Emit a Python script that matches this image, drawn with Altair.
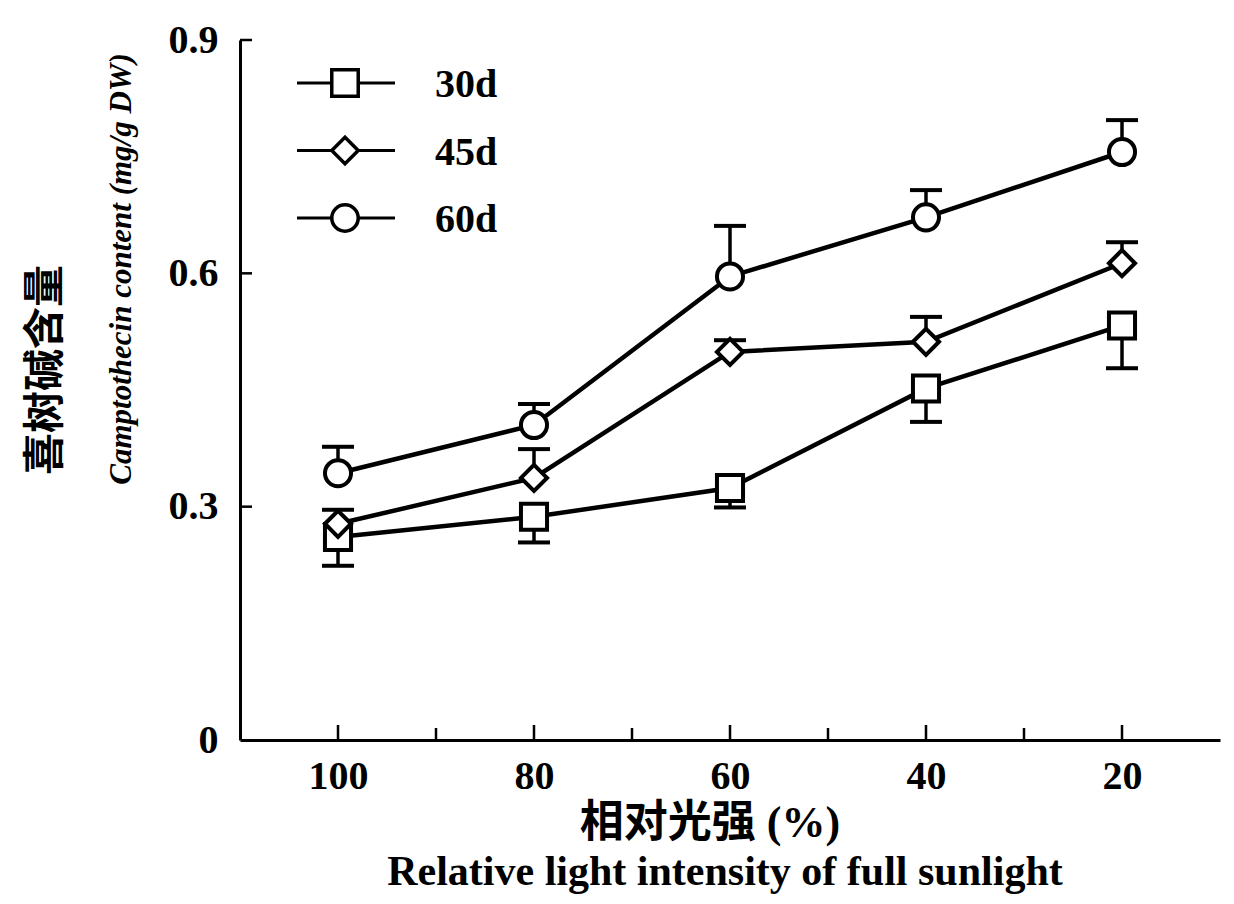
import altair as alt
import pandas as pd

# ---- data ----
light = [100, 80, 60, 40, 20]
series = ["30d", "45d", "60d"]
d30 = [0.261, 0.287, 0.324, 0.452, 0.533]
d30_err = [-0.037, -0.033, -0.025, -0.043, -0.055]
d45 = [0.278, 0.337, 0.499, 0.512, 0.613]
d45_err = [0.018, 0.037, 0.015, 0.032, 0.027]
d60 = [0.343, 0.405, 0.596, 0.672, 0.756]
d60_err = [0.034, 0.027, 0.065, 0.035, 0.041]
shapes = ["square", "diamond", "circle"]

x_labels = [100, 80, 60, 40, 20]
x_minor = [90, 70, 50, 30]
y_ticks = [0, 0.3, 0.6, 0.9]

rows = []
for name, vals, errs in zip(series, [d30, d45, d60], [d30_err, d45_err, d60_err]):
    for lx, v, e in zip(light, vals, errs):
        rows.append({"series": name, "light": lx, "value": v, "end": v + e})
df = pd.DataFrame(rows)

FONT = "Liberation Serif, Noto Sans CJK SC"

xscale = alt.Scale(domain=[10, 110], reverse=True, nice=False, zero=False)
yscale = alt.Scale(domain=[0, 0.9], nice=False, zero=True)

X = alt.X("light:Q", scale=xscale,
          axis=alt.Axis(values=x_labels, title=None, ticks=False, grid=False,
                        labelPadding=16, labelFontSize=40, labelFont=FONT,
                        labelFontWeight="bold", labelColor="black",
                        domainColor="black", domainWidth=3))
Y = alt.Y("value:Q", scale=yscale,
          axis=alt.Axis(values=y_ticks, title=None, ticks=False, grid=False,
                        labelPadding=22, labelFontSize=40, labelFont=FONT,
                        labelFontWeight="bold", labelColor="black",
                        labelExpr="datum.value == 0 ? '0' : format(datum.value, '.1f')",
                        domainColor="black", domainWidth=3))

base = alt.Chart(df)

stems = base.mark_rule(color="black", strokeWidth=3.5).encode(
    x=X, y=Y, y2="end:Q")
caps = base.mark_tick(orient="horizontal", color="black", size=32, thickness=4,
                      opacity=1).encode(
    x=alt.X("light:Q", scale=xscale), y=alt.Y("end:Q", scale=yscale))
lines = base.mark_line(color="black", strokeWidth=4.5).encode(
    x=alt.X("light:Q", scale=xscale), y=alt.Y("value:Q", scale=yscale),
    detail="series:N")
points = base.mark_point(fill="white", fillOpacity=1, stroke="black",
                         strokeWidth=4, size=680, opacity=1).encode(
    x=alt.X("light:Q", scale=xscale), y=alt.Y("value:Q", scale=yscale),
    shape=alt.Shape("series:N", scale=alt.Scale(domain=series, range=shapes),
                    legend=None))

# inward tick marks
tick_major = alt.Chart(pd.DataFrame({"t": x_labels})).mark_rule(
    color="black", strokeWidth=2.5).encode(
    x=alt.X("t:Q", scale=xscale), y=alt.value(700), y2=alt.value(685))
tick_minor = alt.Chart(pd.DataFrame({"t": x_minor})).mark_rule(
    color="black", strokeWidth=2.5).encode(
    x=alt.X("t:Q", scale=xscale), y=alt.value(700), y2=alt.value(688))
tick_y = alt.Chart(pd.DataFrame({"t": y_ticks[1:]})).mark_rule(
    color="black", strokeWidth=2.5).encode(
    y=alt.Y("t:Q", scale=yscale), x=alt.value(0), x2=alt.value(12))

# manual legend
legend_layers = []
for i, (name, shp) in enumerate(zip(series, shapes)):
    ly = 43 + i * 67.5
    one = alt.Chart(pd.DataFrame({"label": [name]}))
    legend_layers.append(one.mark_rule(color="black", strokeWidth=3).encode(
        x=alt.value(57), x2=alt.value(155), y=alt.value(ly)))
    legend_layers.append(one.mark_point(shape=shp, fill="white", fillOpacity=1,
                                        stroke="black", strokeWidth=3.5,
                                        size=700, opacity=1).encode(
        x=alt.value(105), y=alt.value(ly)))
    legend_layers.append(one.mark_text(align="left", baseline="middle",
                                       font=FONT, fontSize=40, fontWeight="bold",
                                       color="black").encode(
        x=alt.value(195), y=alt.value(ly + 2), text="label:N"))

# axis titles
xt1 = alt.Chart(pd.DataFrame({"t": ["相对光强 (%)"]})).mark_text(
    align="center", baseline="middle", font=FONT, fontSize=44,
    fontWeight="bold", color="black").encode(
    x=alt.value(470), y=alt.value(784), text="t:N")
xt2 = alt.Chart(pd.DataFrame({"t": ["Relative light intensity of full sunlight"]})).mark_text(
    align="center", baseline="alphabetic", font=FONT, fontSize=42,
    fontWeight="bold", color="black").encode(
    x=alt.value(485), y=alt.value(845), text="t:N")
yt1 = alt.Chart(pd.DataFrame({"t": ["喜树碱含量"]})).mark_text(
    align="center", baseline="middle", font=FONT, fontSize=42, angle=270,
    fontWeight="bold", color="black").encode(
    x=alt.value(-194), y=alt.value(330), text="t:N")
yt2 = alt.Chart(pd.DataFrame({"t": ["Camptothecin content (mg/g DW)"]})).mark_text(
    align="center", baseline="middle", font=FONT, fontSize=31, angle=270,
    fontWeight="bold", fontStyle="italic", color="black").encode(
    x=alt.value(-118), y=alt.value(229), text="t:N")

chart = alt.layer(
    stems, caps, lines, points, tick_major, tick_minor, tick_y,
    *legend_layers, xt1, xt2, yt1, yt2
).properties(
    width=980, height=700,
    autosize=alt.AutoSizeParams(type="none"),
    padding={"left": 232, "top": 32, "right": 6, "bottom": 162},
).configure_view(stroke=None)

chart.save("out.html", embed_options={"renderer": "svg", "actions": False})
